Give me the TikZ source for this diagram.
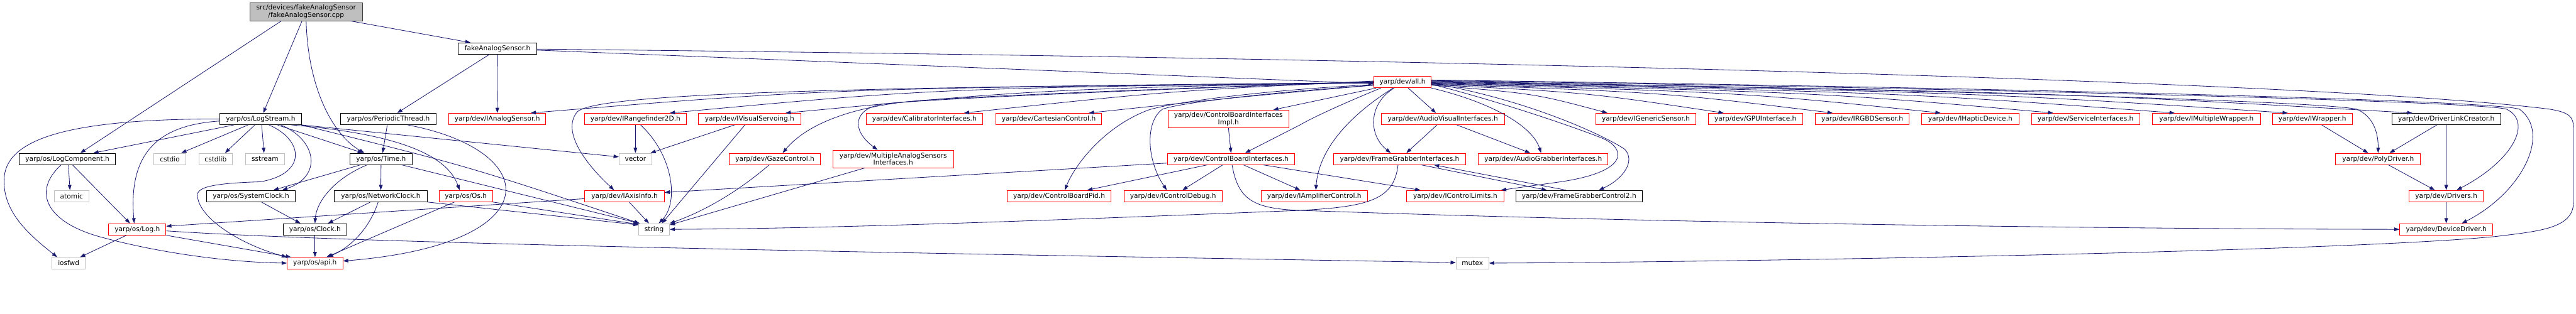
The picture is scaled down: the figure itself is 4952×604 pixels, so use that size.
\documentclass[tikz,border=0pt]{standalone}
\usepackage{fontspec}
\setmainfont{DejaVu Sans}
\usetikzlibrary{arrows.meta}
\definecolor{edgeblue}{HTML}{191970}
\definecolor{extgray}{HTML}{BFBFBF}
\definecolor{rootline}{HTML}{404040}
\tikzset{
    file node/.style = {draw, rectangle, fill=white, inner sep=0pt, minimum height=22, line width=1pt, font=\fontsize{12.8}{14}\selectfont},
}
\tikzset{
    doc file/.style = {file node, draw=black},
    trunc file/.style = {file node, draw=red},
    ext file/.style = {file node, draw=extgray},
    root file/.style = {file node, draw=rootline, fill=extgray, minimum height=35, align=center},
    inc/.style = {draw=edgeblue, line width=1pt, -{Triangle[length=10pt, width=7pt]}},
}

\begin{document}
\begin{tikzpicture}[x=1pt, y=-1pt]
        \useasboundingbox[fill=white] (0,0) rectangle (4952,604);

        \node[root file, minimum width=217] (root) at (588.5,22.5) {src/devices/fakeAnalogSensor\\/fakeAnalogSensor.cpp};

        \node[doc file, minimum width=151] (fake) at (956.5,93.5) {fakeAnalogSensor.h};
        \node[trunc file, minimum width=110] (allh) at (2696,158) {yarp/dev/all.h};

        \node[doc file, minimum width=156] (logstream) at (501,229) {yarp/os/LogStream.h};
        \node[doc file, minimum width=183] (periodic) at (746.5,229) {yarp/os/PeriodicThread.h};
        \node[trunc file, minimum width=186] (ianalog) at (956,229) {yarp/dev/IAnalogSensor.h};
        \node[trunc file, minimum width=195] (rangefinder) at (1221.5,229) {yarp/dev/IRangefinder2D.h};
        \node[trunc file, minimum width=196] (visualservo) at (1441,229) {yarp/dev/IVisualServoing.h};
        \node[trunc file, minimum width=224] (calibrator) at (1777,229) {yarp/dev/CalibratorInterfaces.h};
        \node[trunc file, minimum width=204] (cartesian) at (2016,229) {yarp/dev/CartesianControl.h};
        \node[trunc file, minimum width=233, minimum height=34, align=center] (cbimpl) at (2361.5,229) {yarp/dev/ControlBoardInterfaces\\Impl.h};
        \node[trunc file, minimum width=237] (audiovisual) at (2773.5,229) {yarp/dev/AudioVisualInterfaces.h};
        \node[trunc file, minimum width=192] (generic) at (3164,229) {yarp/dev/IGenericSensor.h};
        \node[trunc file, minimum width=181] (gpu) at (3374.5,229) {yarp/dev/GPUInterface.h};
        \node[trunc file, minimum width=180] (rgbd) at (3580,229) {yarp/dev/IRGBDSensor.h};
        \node[trunc file, minimum width=187] (haptic) at (3787.5,229) {yarp/dev/IHapticDevice.h};
        \node[trunc file, minimum width=208] (service) at (4009,229) {yarp/dev/ServiceInterfaces.h};
        \node[trunc file, minimum width=207] (multiwrapper) at (4241.5,229) {yarp/dev/IMultipleWrapper.h};
        \node[trunc file, minimum width=154] (wrapper) at (4445,229) {yarp/dev/IWrapper.h};
        \node[doc file, minimum width=209] (linkcreator) at (4702.5,229) {yarp/dev/DriverLinkCreator.h};

        \node[doc file, minimum width=185] (logcomp) at (129.5,306) {yarp/os/LogComponent.h};
        \node[ext file, minimum width=61] (cstdio) at (326.5,306) {cstdio};
        \node[ext file, minimum width=65] (cstdlib) at (414.5,306) {cstdlib};
        \node[ext file, minimum width=75] (sstream) at (509.5,306) {sstream};
        \node[doc file, minimum width=119] (timeh) at (732.5,306) {yarp/os/Time.h};
        \node[ext file, minimum width=63] (vector) at (1221.5,306) {vector};
        \node[trunc file, minimum width=175] (gaze) at (1489.5,306) {yarp/dev/GazeControl.h};
        \node[trunc file, minimum width=232, minimum height=34, align=center] (masi) at (1717,306) {yarp/dev/MultipleAnalogSensors\\Interfaces.h};
        \node[trunc file, minimum width=245] (cbi) at (2366.5,306) {yarp/dev/ControlBoardInterfaces.h};
        \node[trunc file, minimum width=253] (framegrabber) at (2690.5,306) {yarp/dev/FrameGrabberInterfaces.h};
        \node[trunc file, minimum width=249] (audiograbber) at (2966.5,306) {yarp/dev/AudioGrabberInterfaces.h};
        \node[trunc file, minimum width=163] (polydriver) at (4571.5,306) {yarp/dev/PolyDriver.h};

        \node[ext file, minimum width=67] (atomic) at (137.5,377.5) {atomic};
        \node[doc file, minimum width=171] (systemclock) at (482.5,377.5) {yarp/os/SystemClock.h};
        \node[doc file, minimum width=178] (netclock) at (732,377.5) {yarp/os/NetworkClock.h};
        \node[trunc file, minimum width=103] (osh) at (895.5,377.5) {yarp/os/Os.h};
        \node[trunc file, minimum width=153] (axisinfo) at (1200.5,377.5) {yarp/dev/IAxisInfo.h};
        \node[trunc file, minimum width=200] (cbpid) at (2036,377.5) {yarp/dev/ControlBoardPid.h};
        \node[trunc file, minimum width=188] (ctrldebug) at (2255,377.5) {yarp/dev/IControlDebug.h};
        \node[trunc file, minimum width=205] (amplifier) at (2526.5,377.5) {yarp/dev/IAmplifierControl.h};
        \node[trunc file, minimum width=187] (ctrllimits) at (2797.5,377.5) {yarp/dev/IControlLimits.h};
        \node[doc file, minimum width=243] (fgcontrol2) at (3035.5,377.5) {yarp/dev/FrameGrabberControl2.h};
        \node[trunc file, minimum width=143] (drivers) at (4702.5,377.5) {yarp/dev/Drivers.h};

        \node[trunc file, minimum width=110] (logh) at (264,441.5) {yarp/os/Log.h};
        \node[doc file, minimum width=123] (clockh) at (605.5,441.5) {yarp/os/Clock.h};
        \node[ext file, minimum width=59] (stringh) at (1257.5,441.5) {string};
        \node[trunc file, minimum width=179] (devicedriver) at (4702.5,441.5) {yarp/dev/DeviceDriver.h};

        \node[ext file, minimum width=64] (iosfwd) at (132,506.5) {iosfwd};
        \node[trunc file, minimum width=107] (apih) at (605.5,506.5) {yarp/os/api.h};
        \node[ext file, minimum width=63] (mutex) at (2830.5,506.5) {mutex};

        \draw[inc] ([xshift=-48]root.south) -- ([xshift=25]logcomp.north);
        \draw[inc] ([xshift=-8]root.south) -- ([xshift=5]logstream.north);
        \draw[inc] (root.south) .. controls (592,170) and (640,260) .. ([xshift=-32]timeh.north);
        \draw[inc] ([xshift=86]root.south) -- ([xshift=-52]fake.north);

        \draw[inc] ([xshift=-16]fake.south) -- ([xshift=17]periodic.north);
        \draw[inc] (fake.south) -- (ianalog.north);
        \draw[inc] ([yshift=-3]fake.east) -- ([yshift=-3]allh.west);
        \draw[inc] ([yshift=-1]fake.east) .. controls (3000,115) and (4500,160) .. (4900,210) .. controls (4940,216) and (4947,226) .. (4947,245) -- (4947,390) .. controls (4947,440) and (4880,445) .. (4800,455) .. controls (4500,485) and (3300,505) .. (mutex.east);

        \draw[inc] ([xshift=-2]periodic.south) -- ([xshift=3]timeh.north);
        \draw[inc] ([xshift=37]periodic.south) .. controls (1045,290) and (1060,470) .. ([yshift=4]apih.east);

        \draw[inc] ([xshift=-40]timeh.south) -- ([xshift=43]systemclock.north);
        \draw[inc] ([xshift=-27]timeh.south) .. controls (640,345) and (608,390) .. (clockh.north);
        \draw[inc] (timeh.south) -- (netclock.north);
        \draw[inc] ([xshift=40]timeh.south) -- ([xshift=2]stringh.north west);
        \draw[inc] ([xshift=-20]netclock.south) -- ([xshift=25]clockh.north);
        \draw[inc] ([xshift=-5]netclock.south) .. controls (710,440) and (675,475) .. ([xshift=25]apih.north);
        \draw[inc] (netclock.south east) -- ([yshift=-3]stringh.north west);
        \draw[inc] ([xshift=-22]osh.south) -- ([xshift=22]apih.north);
        \draw[inc] (osh.south east) -- ([yshift=-2]stringh.north west);
        \draw[inc] ([xshift=20]systemclock.south) -- ([xshift=-28]clockh.north);
        \draw[inc] (clockh.south) -- (apih.north);

        \draw[inc] (logstream.west) .. controls (150,229) and (10,262) .. (8,345) .. controls (5,410) and (60,455) .. ([xshift=-22]iosfwd.north);
        \draw[inc] ([yshift=-4]logstream.west) .. controls (320,240) and (245,280) .. ([xshift=-6]logh.north);
        \draw[inc] ([xshift=-51]logstream.south) -- ([xshift=50]logcomp.north);
        \draw[inc] ([xshift=-24]logstream.south) -- ([xshift=22]cstdio.north);
        \draw[inc] ([xshift=-11]logstream.south) -- ([xshift=18]cstdlib.north);
        \draw[inc] ([xshift=2]logstream.south) -- ([xshift=-2]sstream.north);
        \draw[inc] ([xshift=39]logstream.south) .. controls (610,270) and (620,340) .. ([xshift=60]systemclock.north);
        \draw[inc] ([xshift=16]logstream.south) .. controls (585,270) and (590,335) .. (500,350) .. controls (400,353) and (375,362) .. (380,380) .. controls (385,420) and (460,470) .. (apih.north west);
        \draw[inc] ([xshift=32]logstream.south) -- ([xshift=-35]timeh.north);
        \draw[inc] ([xshift=59]logstream.south) .. controls (770,258) and (860,300) .. ([xshift=-12]osh.north);
        \draw[inc] (logstream.south east) -- ([yshift=4]vector.west);
        \draw[inc] (logstream.south east) .. controls (900,320) .. ([xshift=2]stringh.north west);

        \draw[inc] ([xshift=2]logcomp.south) -- ([xshift=-3]atomic.north);
        \draw[inc] ([xshift=10]logcomp.south) -- ([xshift=-14]logh.north);
        \draw[inc] ([xshift=-12]logcomp.south) .. controls (60,370) and (90,430) .. (200,458) .. controls (320,490) and (450,505) .. (apih.west);
        \draw[inc] ([xshift=-21]logh.south) -- ([xshift=22]iosfwd.north);
        \draw[inc] (logh.south east) -- ([xshift=8]apih.north west);
        \draw[inc] ([yshift=-3]logh.east) .. controls (700,470) and (1800,488) .. ([yshift=1]mutex.west);

        \draw[inc] ([yshift=-5]axisinfo.west) -- ([yshift=6]logh.east);
        \draw[inc] ([xshift=9]axisinfo.south) -- ([xshift=-10]stringh.north);
        \draw[inc] (rangefinder.south) -- (vector.north);
        \draw[inc] ([xshift=10]rangefinder.south) .. controls (1295,300) and (1305,390) .. ([xshift=9]stringh.north);
        \draw[inc] ([xshift=-29]visualservo.south) -- ([xshift=29]vector.north);
        \draw[inc] ([xshift=-9]visualservo.south) -- ([xshift=15]stringh.north);
        \draw[inc] ([xshift=-11]gaze.south) .. controls (1400,385) and (1330,415) .. (stringh.north east);
        \draw[inc] ([xshift=-55]masi.south) -- ([yshift=-3]stringh.north east);

        \draw[inc] (cbimpl.south) -- (cbi.north);
        \draw[inc] ([yshift=-8]cbi.west) -- ([yshift=7]axisinfo.east);
        \draw[inc] ([xshift=-46]cbi.south) -- ([xshift=54]cbpid.north);
        \draw[inc] ([xshift=-16]cbi.south) -- ([xshift=18]ctrldebug.north);
        \draw[inc] ([xshift=24]cbi.south) -- ([xshift=-27]amplifier.north);
        \draw[inc] ([xshift=62]cbi.south) -- ([xshift=-67]ctrllimits.north);
        \draw[inc] ([xshift=2]cbi.south) .. controls (2380,385) and (2410,402) .. (2500,405) .. controls (3200,430) and (4100,441) .. (devicedriver.west);

        \draw[inc] ([xshift=-3]framegrabber.south) .. controls (2680,385) and (2630,398) .. (2500,405) .. controls (2000,425) and (1600,440) .. (stringh.east);
        \draw[inc] ([xshift=42]framegrabber.south) -- ([xshift=-62]fgcontrol2.north);
        \draw[inc] ([xshift=-25]fgcontrol2.north) -- ([xshift=66]framegrabber.south);
        \draw[inc] ([xshift=-11]audiovisual.south) -- ([xshift=13]framegrabber.north);
        \draw[inc] ([xshift=27]audiovisual.south) -- ([xshift=-25]audiograbber.north);

        \draw[inc] ([yshift=-2]allh.west) .. controls (1600,170) .. ([xshift=64]ianalog.north);
        \draw[inc] ([yshift=-1]allh.west) .. controls (1800,170) .. ([xshift=66]rangefinder.north);
        \draw[inc] ([yshift=-1]allh.west) .. controls (1600,168) and (1150,180) .. (1110,215) .. controls (1080,250) and (1120,310) .. ([xshift=-20]axisinfo.north);
        \draw[inc] (allh.west) .. controls (2000,172) .. ([xshift=69]visualservo.north);
        \draw[inc] ([yshift=1]allh.west) .. controls (2200,172) and (1800,188) .. (1733,197) .. controls (1630,210) and (1550,240) .. ([xshift=15]gaze.north);
        \draw[inc] (allh.west) .. controls (2200,172) and (1760,192) .. (1700,200) .. controls (1640,208) and (1635,250) .. ([xshift=-30]masi.north);
        \draw[inc] ([yshift=2]allh.west) .. controls (2250,175) .. ([xshift=76]calibrator.north);
        \draw[inc] ([yshift=-6]allh.west) .. controls (2400,185) .. ([xshift=77]cartesian.north);
        \draw[inc] ([yshift=-5]allh.west) .. controls (2450,172) and (2260,195) .. (2207,212) .. controls (2120,245) and (2065,320) .. ([xshift=11]cbpid.north);
        \draw[inc] ([yshift=-6]allh.west) .. controls (2480,175) and (2280,195) .. (2235,210) .. controls (2200,235) and (2205,310) .. ([xshift=-12]ctrldebug.north);
        \draw[inc] ([xshift=5]allh.south west) -- ([xshift=86]cbimpl.north);
        \draw[inc] ([xshift=14]allh.south west) .. controls (2580,200) and (2520,228) .. (2500,240) -- ([xshift=27]cbi.north);

        \draw[inc] ([xshift=11]allh.south) -- ([xshift=-13]audiovisual.north);
        \draw[inc] ([xshift=-16]allh.south) .. controls (2630,200) and (2630,260) .. ([xshift=-17]framegrabber.north);
        \draw[inc] ([xshift=-18]allh.south) .. controls (2590,225) and (2535,290) .. ([xshift=3]amplifier.north);
        \draw[inc] (allh.south east) .. controls (2860,195) and (2945,240) .. ([xshift=-4]audiograbber.north);
        \draw[inc] ([yshift=-4]allh.east) .. controls (2900,200) and (3040,250) .. (3080,266) .. controls (3125,285) and (3135,330) .. (3000,350) -- ([xshift=-6]ctrllimits.north east);
        \draw[inc] ([yshift=-2]allh.east) .. controls (2950,195) and (3090,265) .. (3123,287) .. controls (3145,310) and (3120,345) .. ([xshift=38]fgcontrol2.north);

        \draw[inc] ([yshift=-6]allh.east) .. controls (2950,180) .. ([xshift=-74]generic.north);
        \draw[inc] ([yshift=-5]allh.east) .. controls (3050,178) .. ([xshift=-61]gpu.north);
        \draw[inc] ([yshift=-4]allh.east) .. controls (3200,178) .. ([xshift=-57]rgbd.north);
        \draw[inc] ([yshift=-3]allh.east) .. controls (3350,178) .. ([xshift=-57]haptic.north);
        \draw[inc] ([yshift=-2]allh.east) .. controls (3500,178) .. ([xshift=-62]service.north);
        \draw[inc] ([yshift=-1]allh.east) .. controls (3650,178) .. ([xshift=-61]multiwrapper.north);
        \draw[inc] (allh.east) .. controls (3800,178) .. ([xshift=-47]wrapper.north);
        \draw[inc] ([yshift=1]allh.east) .. controls (3950,178) .. ([xshift=-65]linkcreator.north);
        \draw[inc] ([yshift=2]allh.east) .. controls (3800,175) and (4450,195) .. (4530,210) .. controls (4565,225) and (4572,260) .. (polydriver.north);
        \draw[inc] ([yshift=3]allh.east) .. controls (3800,170) and (4760,195) .. (4818,210) .. controls (4870,235) and (4830,310) .. ([xshift=20]drivers.north);
        \draw[inc] ([yshift=4]allh.east) .. controls (3800,168) and (4780,192) .. (4843,210) .. controls (4905,255) and (4850,370) .. ([xshift=30]devicedriver.north);

        \draw[inc] ([xshift=18]wrapper.south) -- ([xshift=-19]polydriver.north);
        \draw[inc] ([xshift=-18]linkcreator.south) -- ([xshift=22]polydriver.north);
        \draw[inc] (linkcreator.south) -- (drivers.north);
        \draw[inc] ([xshift=20]polydriver.south) -- ([xshift=-22]drivers.north);
        \draw[inc] (drivers.south) -- (devicedriver.north);
    \end{tikzpicture}
\end{document}
